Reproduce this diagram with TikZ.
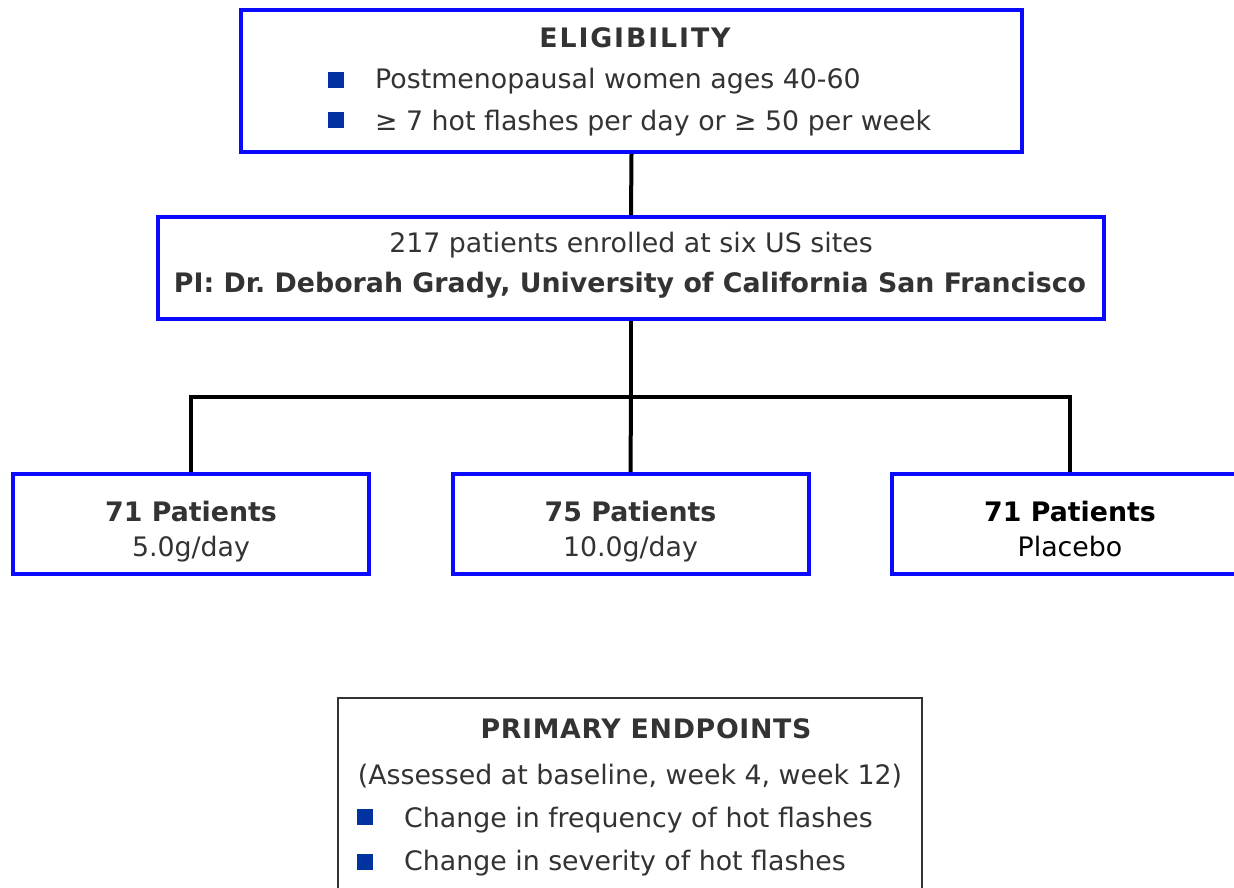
\documentclass[tikz,border=0pt]{standalone}
\usepackage{fontspec}
\setmainfont{DejaVu Sans}
\frenchspacing
\definecolor{boxblue}{RGB}{10,10,255}
\definecolor{bulletblue}{RGB}{0,51,160}
\definecolor{ink}{RGB}{51,51,51}
\tikzset{
  bluebox/.style={draw=boxblue, line width=4pt, rectangle, inner sep=0pt},
  greybox/.style={draw=ink, line width=1.5pt, rectangle, inner sep=0pt},
  link/.style={draw=black, line width=4pt},
  txt/.style={inner sep=0pt, anchor=base, text=ink, font=\fontsize{26.8}{32}\selectfont},
  btxt/.style={txt, font=\fontsize{26.8}{32}\selectfont\bfseries},
  ltxt/.style={txt, anchor=base west},
  bullet/.style={fill=bulletblue, minimum size=16pt, inner sep=0pt, rectangle},
}
\begin{document}
\begin{tikzpicture}[x=1pt,y=-1pt]
\useasboundingbox (0,0) rectangle (1234,887);

% eligibility box
\node[bluebox, minimum width=781pt, minimum height=142pt] (elig) at (631.5,81) {};
\node[btxt] (eligtitle) at (635,47) {\addfontfeature{LetterSpace=7}ELIGIBILITY};
\node[bullet] (eb1) at (335.5,79.5) {};
\node[bullet] (eb2) at (335.5,120) {};
\node[ltxt] (el1) at (375,88) {Postmenopausal women ages 40-60};
\node[ltxt] (el2) at (375,130) {≥ 7 hot flashes per day or ≥ 50 per week};

% enrolment box
\node[bluebox, minimum width=946pt, minimum height=102pt] (enroll) at (631,268) {};
\node[txt] (en1) at (631,252) {217 patients enrolled at six US sites};
\node[btxt] (en2) at (630,292) {PI: Dr. Deborah Grady, University of California San Francisco};

% treatment arms
\node[bluebox, minimum width=356pt, minimum height=100pt] (arm1) at (191,524) {};
\node[bluebox, minimum width=356pt, minimum height=100pt] (arm2) at (630.5,524) {};
\node[bluebox, minimum width=356pt, minimum height=100pt] (arm3) at (1070,524) {};
\node[btxt] (a1n) at (191,521) {71 Patients};
\node[txt] (a1d) at (191,556) {5.0g/day};
\node[btxt] (a2n) at (630.5,521) {75 Patients};
\node[txt] (a2d) at (630.5,556) {10.0g/day};
\node[btxt, text=black] (a3n) at (1070,521) {71 Patients};
\node[txt, text=black] (a3d) at (1070,556) {Placebo};

% connectors
\coordinate (split) at (631,397);
\draw[link] (elig.south) -- (enroll.north);
\draw[link] (enroll.south) -- (split);
\draw[link] (split) -| (arm1.north);
\draw[link] (split) -| (arm3.north);
\draw[link] (split) -- (arm2.north);

% endpoints box
\node[greybox, minimum width=584pt, minimum height=210pt] (endp) at (630,803) {};
\node[btxt] (eptitle) at (646,738) {\addfontfeature{LetterSpace=2.5}PRIMARY ENDPOINTS};
\node[txt] (epsub) at (630,784) {(Assessed at baseline, week 4, week 12)};
\node[bullet] (pb1) at (365,817) {};
\node[bullet] (pb2) at (365,861.5) {};
\node[ltxt] (ep1) at (404,827) {Change in frequency of hot flashes};
\node[ltxt] (ep2) at (404,870) {Change in severity of hot flashes};
\end{tikzpicture}
\end{document}
